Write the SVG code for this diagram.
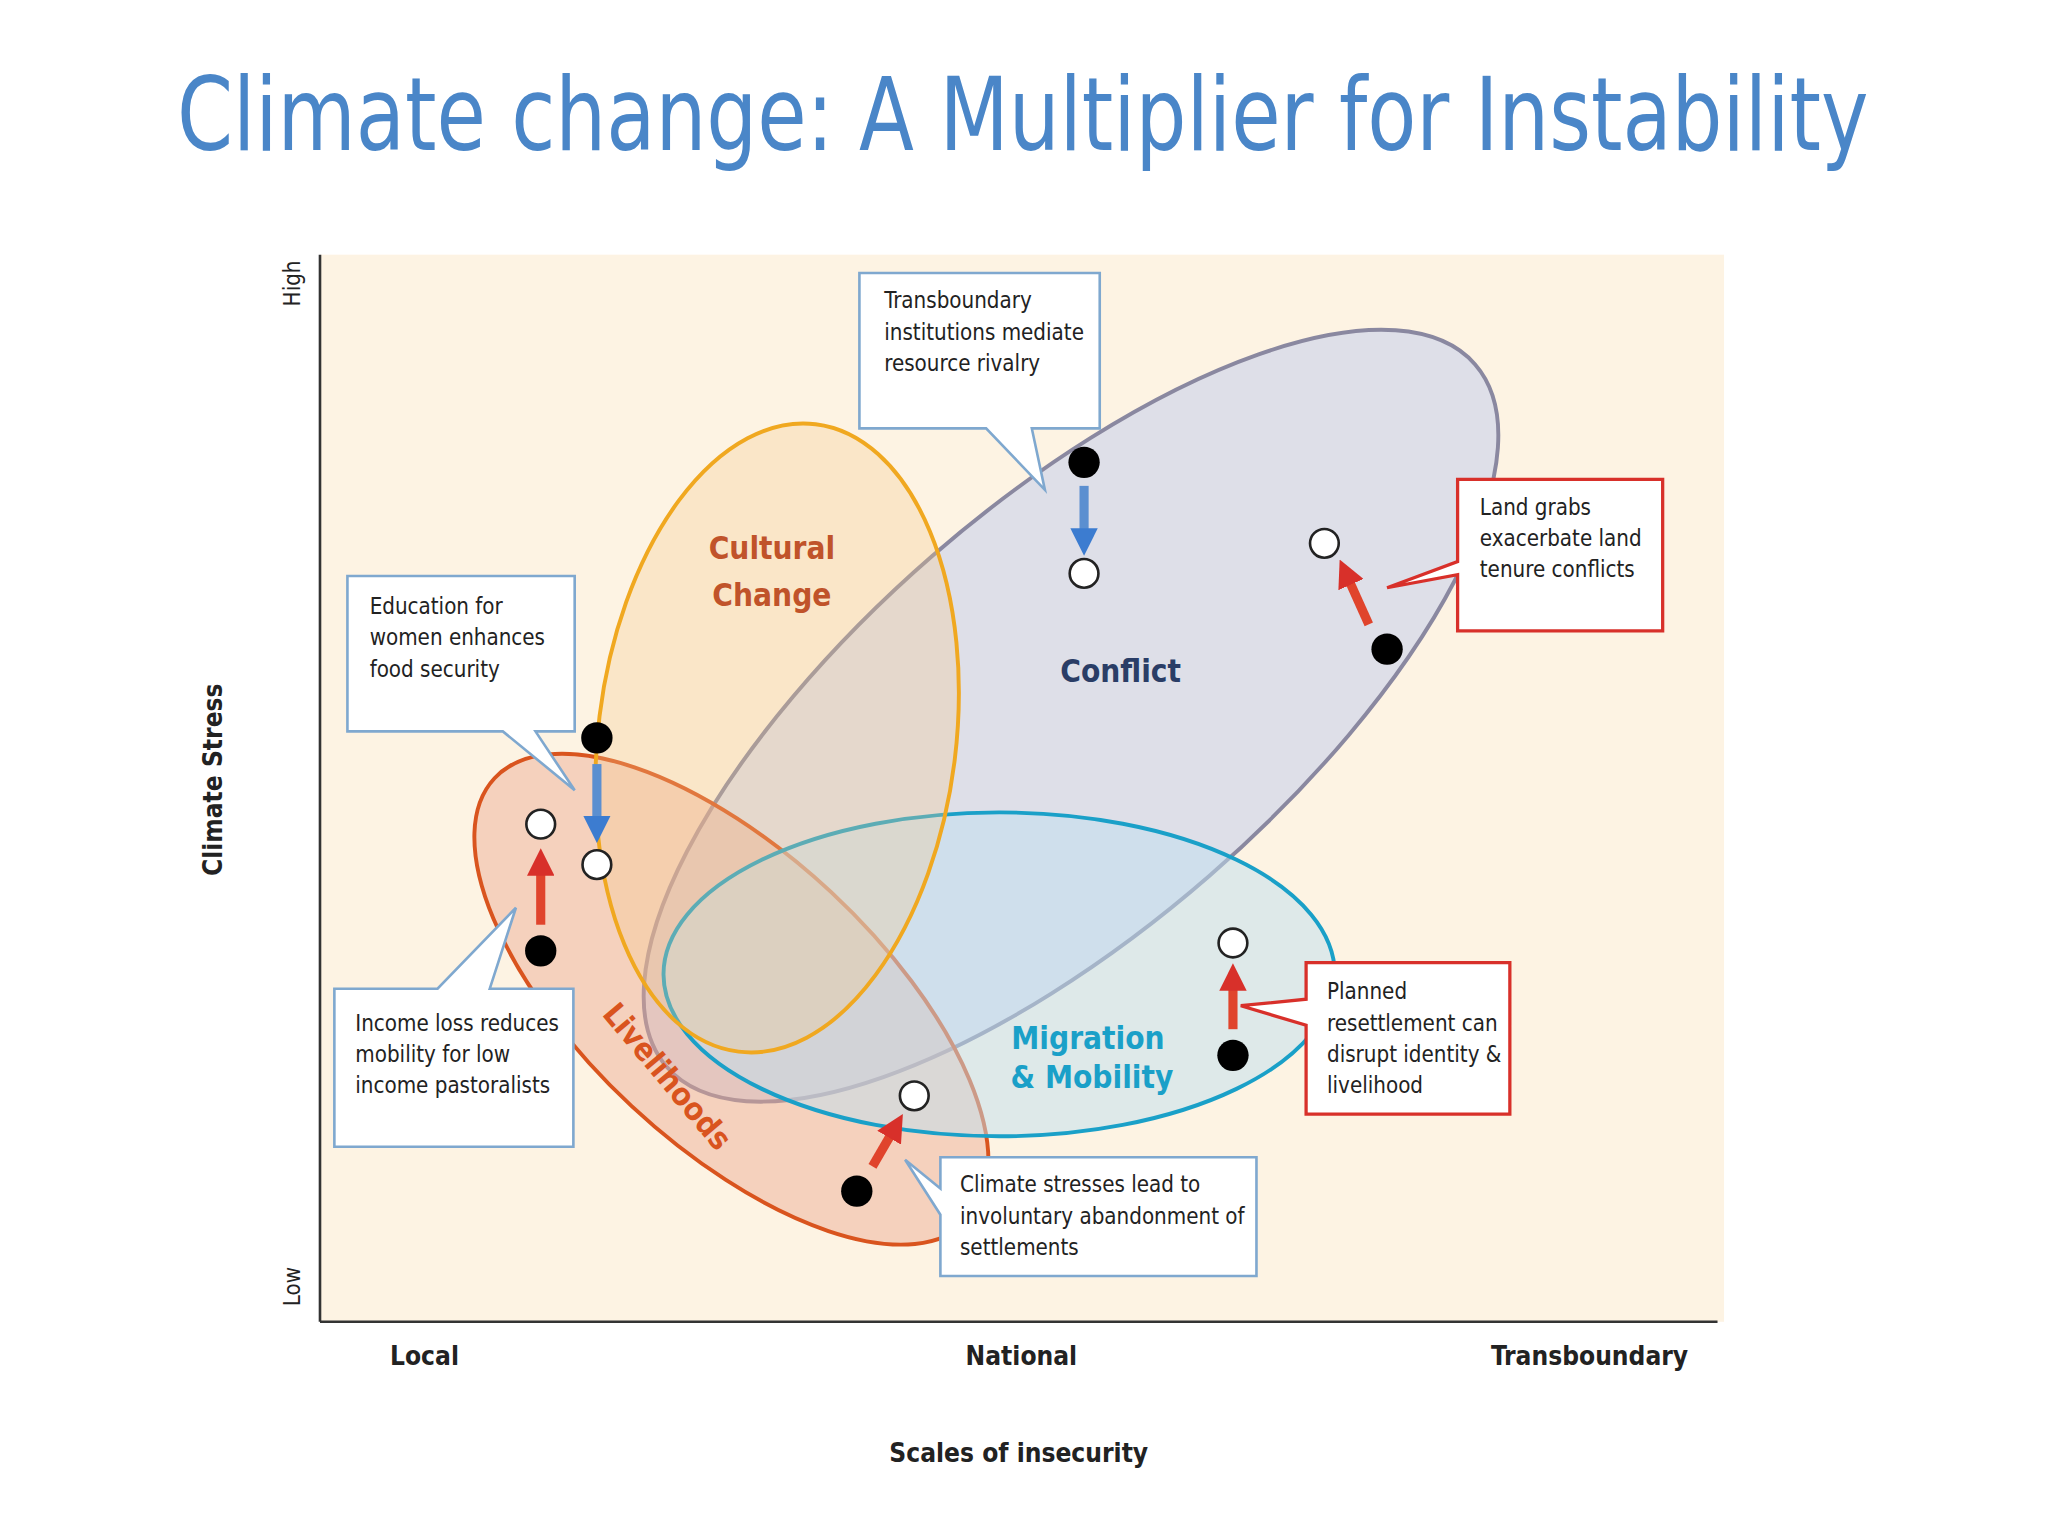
<svg xmlns="http://www.w3.org/2000/svg" width="2048" height="1536" viewBox="0 0 2048 1536">
<defs>
<style>
.t{font-family:"DejaVu Sans Condensed","DejaVu Sans",sans-serif;font-size:17px;fill:#222}
.lab{font-family:"DejaVu Sans Condensed","DejaVu Sans",sans-serif;font-weight:bold;font-size:24px;text-anchor:middle}
.ax{font-family:"DejaVu Sans Condensed","DejaVu Sans",sans-serif;font-weight:bold;font-size:20px;fill:#222;text-anchor:middle}
.cb{fill:#fff;stroke:#7fa8cf;stroke-width:2}
.cr{fill:#fff;stroke:#d8302a;stroke-width:2.5}
.bd{fill:#000}
.wd{fill:#fff;stroke:#222;stroke-width:2}
.ab{stroke:#5b8fd0;stroke-width:7;fill:none;marker-end:url(#mb)}
.ar{stroke:#e0442c;stroke-width:7;fill:none;marker-end:url(#mr)}
</style>
<marker id="mb" viewBox="0 0 10 10" refX="5" refY="5" markerWidth="3" markerHeight="3" orient="auto"><path d="M0,0L10,5L0,10z" fill="#3c7cd0"/></marker>
<marker id="mr" viewBox="0 0 10 10" refX="5" refY="5" markerWidth="3" markerHeight="3" orient="auto"><path d="M0,0L10,5L0,10z" fill="#d8302a"/></marker>
</defs>
<rect width="2048" height="1536" fill="#fff"/>
<g transform="scale(1.3061)">
<text x="783" y="115" text-anchor="middle" font-family="'DejaVu Sans Condensed',sans-serif" font-size="78" fill="#4a86c8" textLength="1295" lengthAdjust="spacingAndGlyphs">Climate change: A Multiplier for Instability</text>
<rect x="245" y="195" width="1075" height="817" fill="#fdf3e3"/>
<g id="conflict"><ellipse cx="820" cy="548" rx="410" ry="162" transform="rotate(-41 820 548)" fill="#dcdde8" fill-opacity="0.95" stroke="#8a88a0" stroke-width="3"/></g>
<g id="livelihoods"><ellipse cx="560" cy="765" rx="248" ry="112" transform="rotate(43 560 765)" fill="#eba98f" fill-opacity="0.45" stroke="#d9541e" stroke-width="3"/></g>
<g id="migration"><ellipse cx="765" cy="746" rx="257" ry="124" fill="#bfe0ef" fill-opacity="0.5" stroke="#1aa0c8" stroke-width="3"/></g>
<g id="cultural"><ellipse cx="595" cy="565" rx="137" ry="242" transform="rotate(7 595 565)" fill="#f6c98a" fill-opacity="0.3" stroke="#f0a820" stroke-width="3"/></g>
<line x1="245" y1="195" x2="245" y2="1012" stroke="#333" stroke-width="2"/>
<line x1="245" y1="1012" x2="1315" y2="1012" stroke="#333" stroke-width="2"/>
<text class="lab" x="591" y="428" fill="#c0532a">Cultural</text>
<text class="lab" x="591" y="464" fill="#c0532a">Change</text>
<text class="lab" x="858" y="522" fill="#2a3d66">Conflict</text>
<text class="lab" x="833" y="803" fill="#1aa0c8">Migration</text>
<text class="lab" x="836" y="833" fill="#1aa0c8">&amp; Mobility</text>
<text class="lab" x="510" y="832" fill="#d9541e" font-size="21" transform="rotate(50 510 825)">Livelihoods</text>
<g id="connectors">
<line class="ab" x1="830" y1="372" x2="830" y2="415"/>
<line class="ar" x1="1048" y1="478" x2="1030" y2="438"/>
<line class="ab" x1="457" y1="585" x2="457" y2="635"/>
<line class="ar" x1="414" y1="708" x2="414" y2="660"/>
<line class="ar" x1="944" y1="788" x2="944" y2="748"/>
<line class="ar" x1="668" y1="893" x2="686" y2="862"/>
</g>
<g id="dots">
<circle class="bd" cx="830" cy="354" r="12"/><circle class="wd" cx="830" cy="439" r="11"/>
<circle class="wd" cx="1014" cy="416" r="11"/><circle class="bd" cx="1062" cy="497" r="12"/>
<circle class="bd" cx="457" cy="565" r="12"/><circle class="wd" cx="457" cy="662" r="11"/>
<circle class="wd" cx="414" cy="631" r="11"/><circle class="bd" cx="414" cy="728" r="12"/>
<circle class="wd" cx="944" cy="722" r="11"/><circle class="bd" cx="944" cy="808" r="12"/>
<circle class="wd" cx="700" cy="839" r="11"/><circle class="bd" cx="656" cy="912" r="12"/>
</g>
<g id="c1"><path class="cb" d="M658,209H842V328H790L800,375L755,328H658Z"/>
<text class="t" x="677" y="236">Transboundary</text><text class="t" x="677" y="260">institutions mediate</text><text class="t" x="677" y="284">resource rivalry</text></g>
<g id="c2"><path class="cr" d="M1116,367H1273V483H1116V440L1062,450L1116,430Z"/>
<text class="t" x="1133" y="394">Land grabs</text><text class="t" x="1133" y="418">exacerbate land</text><text class="t" x="1133" y="442">tenure conflicts</text></g>
<g id="c3"><path class="cb" d="M266,441H440V560H410L440,605L385,560H266Z"/>
<text class="t" x="283" y="470">Education for</text><text class="t" x="283" y="494">women enhances</text><text class="t" x="283" y="518">food security</text></g>
<g id="c4"><path class="cb" d="M256,757H335L395,695L375,757H439V878H256Z"/>
<text class="t" x="272" y="789">Income loss reduces</text><text class="t" x="272" y="813">mobility for low</text><text class="t" x="272" y="837">income pastoralists</text></g>
<g id="c5"><path class="cb" d="M720,886H962V977H720V930L693,888L720,910Z"/>
<text class="t" x="735" y="913">Climate stresses lead to</text><text class="t" x="735" y="937">involuntary abandonment of</text><text class="t" x="735" y="961">settlements</text></g>
<g id="c6"><path class="cr" d="M1000,737H1156V853H1000V785L950,770L1000,765Z"/>
<text class="t" x="1016" y="765">Planned</text><text class="t" x="1016" y="789">resettlement can</text><text class="t" x="1016" y="813">disrupt identity &amp;</text><text class="t" x="1016" y="837">livelihood</text></g>
<text class="t" x="230" y="217" text-anchor="middle" transform="rotate(-90 230 217)" font-size="18">High</text>
<text class="t" x="230" y="985" text-anchor="middle" transform="rotate(-90 230 985)" font-size="18">Low</text>
<text class="ax" x="170" y="597" transform="rotate(-90 170 597)">Climate Stress</text>
<text class="ax" x="325" y="1045">Local</text>
<text class="ax" x="782" y="1045">National</text>
<text class="ax" x="1217" y="1045">Transboundary</text>
<text class="ax" x="780" y="1119" font-size="22">Scales of insecurity</text>
</g>
</svg>
